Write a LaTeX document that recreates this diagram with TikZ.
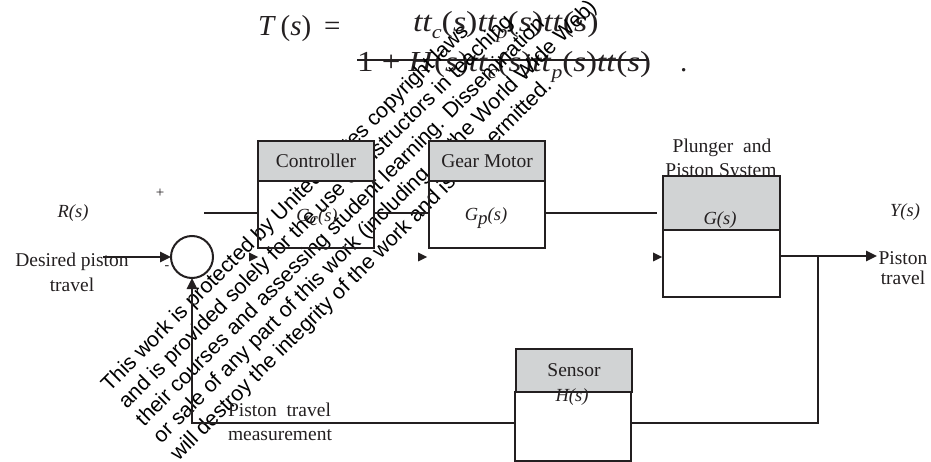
\documentclass[tikz,border=0pt]{standalone}
\usepackage{fontspec}
\usepackage{graphicx}
\setmainfont{Liberation Serif}
\newfontfamily\wmfont{Liberation Sans}
\usetikzlibrary{arrows.meta}
\definecolor{ink}{HTML}{231F20}
\definecolor{headgray}{HTML}{D1D3D4}
\newcommand\lbl{\fontsize{19.5}{22}\selectfont}
\newcommand\ilbl{\fontsize{18.5}{21}\selectfont\itshape}
\newcommand\eqf{\fontsize{29}{32}\selectfont}
\newcommand\sbs[1]{\raisebox{-0.22em}{\fontsize{19}{19}\selectfont\itshape #1}}
\newcommand\Ps{\textup{(}\textit{s}\textup{)}}
\begin{document}
\begin{tikzpicture}[x=1pt,y=-1pt,
  every node/.style={inner sep=0pt, outer sep=0pt, text=ink},
  head/.style={draw=ink, fill=headgray, line width=2pt, font=\lbl},
  body/.style={draw=ink, line width=2pt, font=\ilbl},
  wire/.style={draw=ink, line width=2.6pt},
  arr/.style={wire, -{Triangle[length=11pt,width=10pt]}},
  lab/.style={font=\lbl, align=center},
  ital/.style={font=\ilbl},
  wmark/.style={font=\wmfont\fontsize{21.25}{24}\selectfont, rotate=45, anchor=base west, text=black},
  eq/.style={font=\eqf, anchor=base west}
]
\useasboundingbox (0,0) rectangle (931,462);

% equation
\node[eq] (Ts) at (258,36) {\textit{T}\,\Ps\;\,=};
\node[eq] (num) at (413,32) {\scalebox{1.17}[1]{\itshape tt\sbs{c}\Ps tt\sbs{p}\Ps tt\Ps}};
\node[eq] (den) at (357,72) {\scalebox{1.14}[1]{\upshape 1 + \textit{H}\Ps\textit{tt}\sbs{c}\Ps\textit{tt}\sbs{p}\Ps\textit{tt}\Ps}};
\coordinate (fa) at (357,60);
\coordinate (fz) at (648,60);
\draw[ink, line width=1.6pt] (fa) -- (fz);
\node[eq] (dot) at (680,72) {.};

% watermark (below the block headers)
\node[wmark] (w1) at (109.6,392.4) {This work is protected by United States copyright laws};
\node[wmark] (w2) at (126.8,409.7) {and is provided solely for the use of instructors in teaching};
\node[wmark] (w3) at (144.1,427.0) {their courses and assessing student learning. Dissemination};
\node[wmark] (w4) at (161.3,444.2) {or sale of any part of this work (including on the World Wide Web)};
\node[wmark] (w5) at (178.6,461.5) {will destroy the integrity of the work and is not permitted.};

% blocks
\node[body, minimum width=116pt, minimum height=67pt] (ctrlB) at (316,214.5) {};
\node[ital] (ctrlG) at (317,217) {G\sbs{c}(s)};
\node[head, minimum width=116pt, minimum height=40pt] (ctrlH) at (316,161) {Controller};
\node[body, minimum width=116pt, minimum height=67pt] (gmB) at (487,214.5) {};
\node[ital] (gmG) at (486,218) {G\sbs{p}(s)};
\node[head, minimum width=116pt, minimum height=40pt] (gmH) at (487,161) {Gear Motor};
\node[lab] (pl1) at (722,148) {Plunger\ \ and};
\node[lab] (pl2) at (721,172) {Piston System};
\node[head, minimum width=117pt, minimum height=54pt] (plH) at (721.5,203) {};
\node[body, minimum width=117pt, minimum height=67pt] (plB) at (721.5,263.5) {};
\node[ital] (plG) at (720,220) {G(s)};
\node[head, minimum width=116pt, minimum height=43pt] (sensH) at (574,370.5) {Sensor};
\node[body, minimum width=116pt, minimum height=69pt] (sensB) at (573,426.5) {};
\node[ital] (sensHs) at (572,397) {H(s)};

% summing junction
\node[circle, draw=ink, line width=2pt, minimum size=42pt] (sum) at (192,257) {};

% labels
\node[ital] (Rs) at (73,213) {R(s)};
\node[font=\fontsize{15}{15}\selectfont] (plus) at (160,193) {+};
\node[font=\fontsize{14}{14}\selectfont] (minus) at (167,268) {-};
\node[lab] (dp1) at (72,262) {Desired piston};
\node[lab] (dp2) at (72,285) {travel};
\node[ital] (Ys) at (905,212) {Y(s)};
\node[lab] (pt1) at (903,258) {Piston};
\node[lab] (pt2) at (903,278) {travel};
\node[lab, anchor=west] (fb1) at (228,410) {Piston\ \ travel};
\node[lab, anchor=west] (fb2) at (228,435) {measurement};

% connectors
\coordinate (in) at (103,257);
\draw[arr] (in) -- (sum.west);
\coordinate (r0) at (204,213);
\draw[wire] (r0) -- (r0 -| ctrlB.west);
\draw[wire] (ctrlB.east |- r0) -- (r0 -| gmB.west);
\coordinate (g1) at (657,213);
\draw[wire] (gmB.east |- r0) -- (g1);
\coordinate (yo) at (877,256);
\coordinate (jn) at (818,256);
\draw[arr] (plB.east |- yo) -- (yo);
\coordinate (fb) at (818,423);
\draw[wire] (jn) -- (fb) -- (fb -| sensB.east);
\coordinate (fl) at (192,423);
\draw[arr] (sensB.west |- fl) -- (fl) -- (sum.south);

% stray arrowheads
\foreach \x in {258,427,662} \fill[ink] (\x,257) -- ++(-9,-4.5) -- ++(0,9) -- cycle;
\end{tikzpicture}
\end{document}
